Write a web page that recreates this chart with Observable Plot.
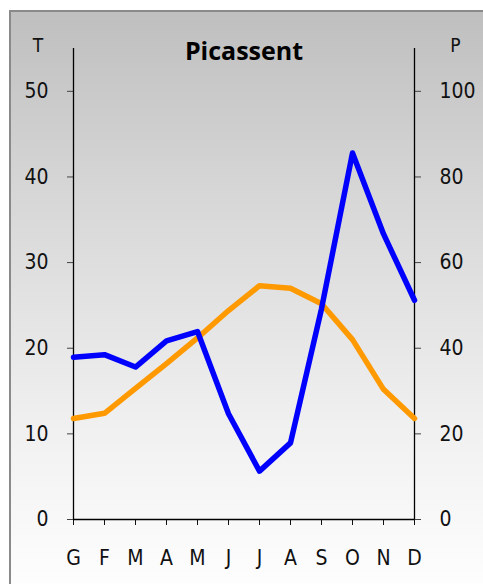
<!DOCTYPE html>
<html><head><meta charset="utf-8">
<script src="https://cdn.jsdelivr.net/npm/d3@7"></script>
<script src="https://cdn.jsdelivr.net/npm/@observablehq/plot@0.6"></script>
<style>
html,body{margin:0;padding:0;background:#fff;}
#frame{position:absolute;left:9px;top:10px;width:490px;height:590px;border-left:2px solid #8a8a8a;border-top:2px solid #8a8a8a;background:linear-gradient(#bfbfbf 0%,#d6d6d6 30%,#f0f0f0 70%,#ffffff 100%);}
#chart{position:absolute;left:0;top:0;}
</style></head><body>
<div id="frame"></div>
<div id="chart"></div>
<script>
const months = ["G","F","M","A","M","J","J","A","S","O","N","D"];
const temperature = [11.8,12.4,15.3,18.2,21.2,24.4,27.3,27.0,25.2,21.0,15.2,11.8];
const precipitation = [37.9,38.5,35.6,41.7,43.9,24.7,11.3,17.9,49.2,85.6,66.7,51.2];
const tTicks = [0,10,20,30,40,50];
const title = "Picassent";

const rows = months.map((m,i)=>({i, m, t: temperature[i], p: precipitation[i]/2}));
const font = "'Open Sans', sans-serif";
const tickFont = "'Liberation Sans Narrow', 'DejaVu Sans Condensed', sans-serif";

const plot = Plot.plot({
  width: 483, height: 584,
  marginLeft: 73, marginRight: 69, marginTop: 48, marginBottom: 65,
  style: {background: "transparent", fontFamily: tickFont, fontSize: "21px", color: "#111", overflow: "visible"},
  x: {type: "linear", domain: [0, 11]},
  y: {domain: [0, 55]},
  marks: [
    Plot.axisY(tTicks, {anchor: "left", tickSize: 6, tickPadding: 19, label: null, stroke: "#444", fontSize: 21, fontFamily: tickFont}),
    Plot.axisY(tTicks, {anchor: "right", tickSize: 6, tickPadding: 19, label: null, stroke: "#444", tickFormat: d => d*2, fontSize: 21, fontFamily: tickFont}),
    Plot.axisX(d3.range(12), {anchor: "bottom", tickSize: 6, tickPadding: 25, label: null, tickFormat: i => months[i], fontSize: 21, fontFamily: tickFont}),
    Plot.ruleY([0], {stroke: "#000", strokeWidth: 1.3}),
    Plot.ruleX([0, 11], {stroke: "#000", strokeWidth: 1.3}),
    Plot.line(rows, {x: "i", y: "t", stroke: "#ff9900", strokeWidth: 5.5, strokeLinejoin: "round"}),
    Plot.line(rows, {x: "i", y: "p", stroke: "#0000ff", strokeWidth: 5.5, strokeLinejoin: "round"}),
    Plot.text([title], {frameAnchor: "top", dy: -6, fontSize: 25, fontWeight: "bold", fill: "#000", fontFamily: font, text: d => d}),
    Plot.text(["T"], {frameAnchor: "top-left", dx: -35.5, dy: -3, lineAnchor: "middle", fontSize: 19, fill: "#111", textAnchor: "middle", fontFamily: tickFont, text: d => d}),
    Plot.text(["P"], {frameAnchor: "top-right", dx: 41, dy: -3, lineAnchor: "middle", fontSize: 19, fill: "#111", textAnchor: "middle", fontFamily: tickFont, text: d => d})
  ]
});
document.getElementById("chart").appendChild(plot);
</script>
</body></html>
